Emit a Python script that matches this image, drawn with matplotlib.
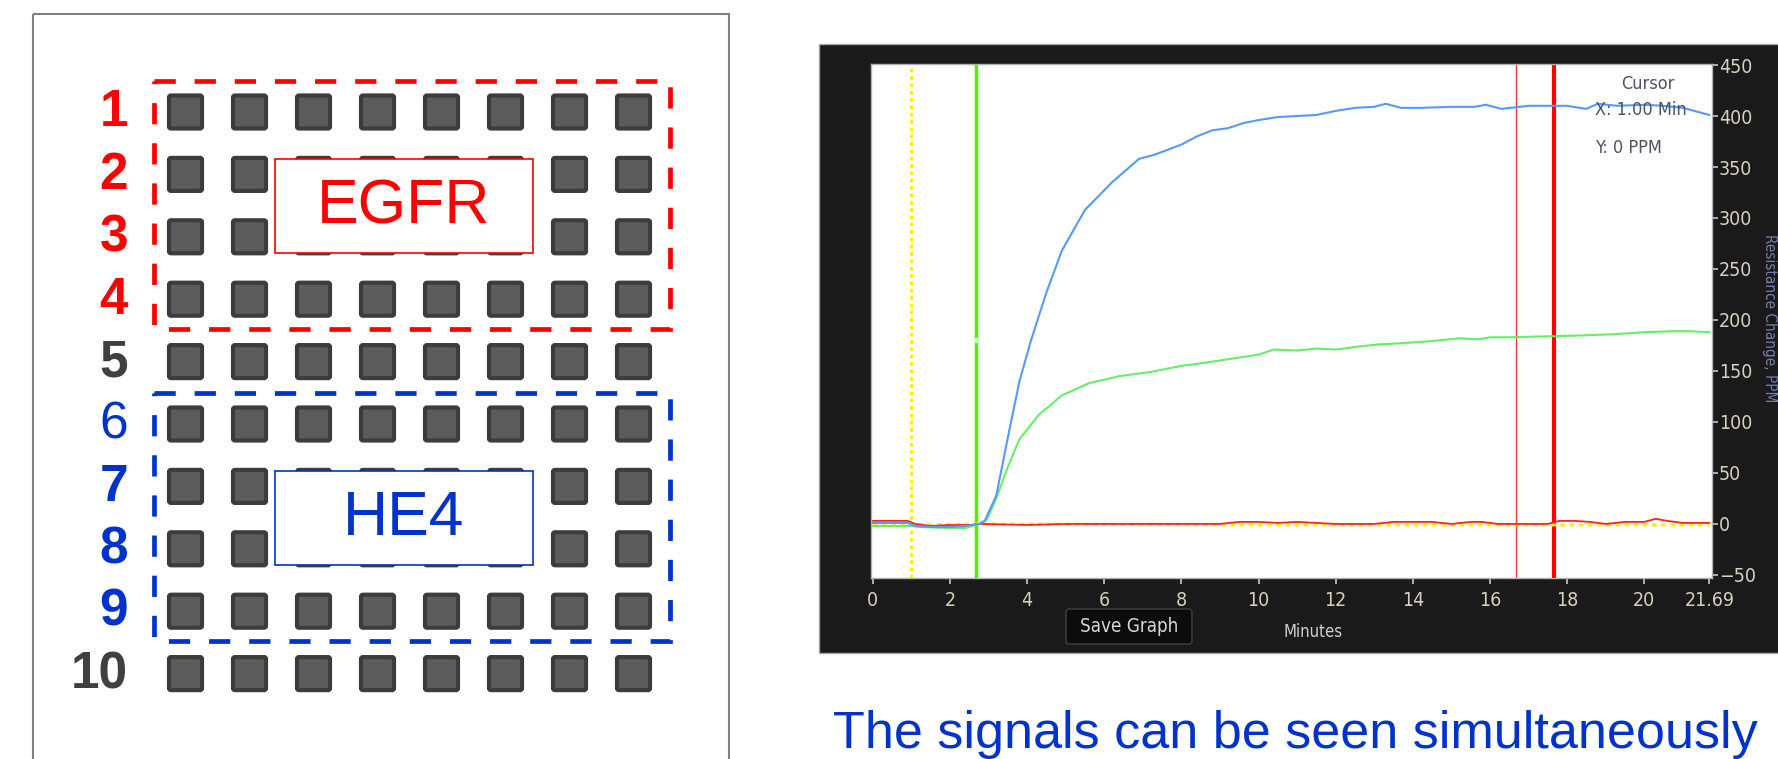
import matplotlib
matplotlib.use("Agg")
import matplotlib.pyplot as plt
from matplotlib.patches import Rectangle, FancyBboxPatch
from matplotlib import font_manager

# --------------------------------------------------------
# Data
# --------------------------------------------------------
row_labels = ["1", "2", "3", "4", "5", "6", "7", "8", "9", "10"]
row_colors = ["#ff0000"] * 4 + ["#404040"] + ["#0033cc"] * 4 + ["#404040"]
row_weights = ["bold"] * 5 + ["normal"] + ["bold"] * 4
n_cols = 8
groups = ["EGFR", "HE4"]
group_rows = [(0, 3), (5, 8)]
group_colors = ["#ff0000", "#0033cc"]

# blue sensor trace (minutes, PPM)
t_blue = [0, 0.9, 1.1, 1.5, 2.0, 2.4, 2.75, 2.9, 3.2, 3.5, 3.8, 4.1, 4.5, 4.9, 5.5,
          6.2, 6.9, 7.3, 8.0, 8.4, 8.8, 9.2, 9.6, 10.0, 10.5, 11.0, 11.5, 12.0, 12.5,
          13.0, 13.3, 13.7, 14.2, 15.0, 15.6, 15.9, 16.3, 17.0, 17.5, 18.0, 18.5,
          18.8, 19.3, 20.0, 20.5, 21.0, 21.4, 21.69]
v_blue = [1, 1, -2, -3, -3, -2, 0, 3, 28, 85, 140, 180, 227, 268, 308,
          335, 358, 362, 372, 380, 386, 388, 393, 396, 399, 400, 401, 405, 408,
          409, 412, 408, 408, 409, 409, 411, 407, 410, 410, 410, 407,
          412, 410, 411, 410, 408, 404, 401]

# green sensor trace
t_green = [0, 1.0, 1.2, 2.0, 2.4, 2.75, 2.95, 3.2, 3.5, 3.8, 4.3, 4.9, 5.6, 6.4, 7.2,
           8.0, 8.6, 9.3, 10.0, 10.4, 11.0, 11.5, 12.0, 12.6, 13.1, 13.6, 14.4, 15.2,
           15.7, 16.0, 16.5, 17.5, 18.5, 19.2, 20.0, 20.7, 21.2, 21.69]
v_green = [-2, -2, -3, -4, -4, 0, 4, 25, 56, 83, 107, 126, 138, 145, 149,
           155, 158, 162, 166, 171, 170, 172, 171, 174, 176, 177, 179, 182,
           181, 183, 183, 184, 185, 186, 188, 189, 189, 188]

# red reference trace
t_red = [0, 0.9, 1.1, 1.5, 2.0, 2.5, 2.8, 4.0, 5.0, 6.0, 7.0, 8.0, 9.0, 9.5, 10.0,
         10.5, 11.0, 12.0, 13.0, 13.5, 14.0, 14.5, 15.0, 15.5, 15.8, 16.2, 17.0,
         17.5, 17.8, 18.2, 18.6, 19.0, 19.5, 20.0, 20.3, 20.6, 21.0, 21.69]
v_red = [3, 3, 0, -2, -1, -1, 0, -1, 0, 0, 0, 0, 0, 2, 2,
         1, 2, 0, 0, 2, 2, 2, 0, 2, 2, 0, 0,
         0, 3, 3, 2, 0, 2, 2, 5, 3, 1, 1]

# yellow reference trace
t_yellow = [0, 1.0, 2.7, 10.0, 21.69]
v_yellow = [-1, -1, 0, -1, -1]

# cursor lines
cursor_x = [1.0, 2.67, 16.67, 17.67]

x_ticks = [0, 2, 4, 6, 8, 10, 12, 14, 16, 18, 20, 21.69]
x_ticklabels = ["0", "2", "4", "6", "8", "10", "12", "14", "16", "18", "20", "21.69"]
y_ticks = [-50, 0, 50, 100, 150, 200, 250, 300, 350, 400, 450]

# --------------------------------------------------------
# Fonts
# --------------------------------------------------------
names = {f.name for f in font_manager.fontManager.ttflist}
ui_font = "Liberation Sans Narrow" if "Liberation Sans Narrow" in names else "DejaVu Sans"
ui = dict(family=ui_font, stretch="condensed")
arial = "Liberation Sans"

W, H = 1778, 759
fig = plt.figure(figsize=(W / 100, H / 100), dpi=100)

bg = fig.add_axes([0, 0, 1, 1])
bg.set_xlim(0, W)
bg.set_ylim(H, 0)
bg.axis("off")

# --------------------------------------------------------
# Left panel: sensor array
# --------------------------------------------------------
bg.add_patch(Rectangle((33, 14), 696, 800, fill=False, ec="#7f7f7f", lw=1.5))

col_x0, col_dx = 185.5, 64.0
row_y0, row_dy = 112.0, 62.4
sq = 33
for r in range(len(row_labels)):
    cy = row_y0 + r * row_dy
    for c in range(n_cols):
        cx = col_x0 + c * col_dx
        bg.add_patch(FancyBboxPatch((cx - sq / 2, cy - sq / 2), sq, sq,
                                    boxstyle="round,pad=0,rounding_size=2",
                                    fc="#5c5c5c", ec="#3c3c3c", lw=3))
    bg.text(128, cy + 1, row_labels[r], ha="right", va="center", color=row_colors[r],
            fontsize=37, fontweight=row_weights[r], family=arial)

for name, (r0, r1), col in zip(groups, group_rows, group_colors):
    y_top = row_y0 + r0 * row_dy - 31
    y_bot = row_y0 + r1 * row_dy + 30
    bg.add_patch(Rectangle((154, y_top), 516, y_bot - y_top, fill=False, ec=col,
                           lw=3.4, ls=(0, (4.5, 4))))
    yc = (row_y0 + (r0 + 1) * row_dy + row_y0 + (r0 + 2) * row_dy) / 2
    bg.add_patch(Rectangle((275, yc - 47), 258, 94, fc="white", ec=col, lw=1.2, zorder=3))
    bg.text(404, yc + 1, name, ha="center", va="center", color=col, fontsize=45,
            family=arial, zorder=4)

# --------------------------------------------------------
# Right panel: instrument screenshot style chart
# --------------------------------------------------------
bg.add_patch(Rectangle((819, 44), W - 819 + 5, 653 - 44, fc="#1a1a1a", ec="#a8a8a8", lw=1))

x0, x1, y0, y1 = 871, 1712, 64, 578
ax = fig.add_axes([x0 / W, 1 - y1 / H, (x1 - x0) / W, (y1 - y0) / H])
ax.set_facecolor("white")
ax.set_xlim(-0.05, 21.76)
ax.set_ylim(-53, 451)

ax.axvline(cursor_x[0], color="#ffee00", lw=2.2, ls=(0, (1.2, 1.2)))
ax.axvline(cursor_x[1], color="#55ee00", lw=2.5)
ax.axvline(cursor_x[2], color="#ff3333", lw=1)
ax.axvline(cursor_x[3], color="#ff0000", lw=3)
ax.plot([cursor_x[1]], [180], "o", ms=4, color="#ccffcc", mec="none")

ax.plot(t_yellow, v_yellow, color="#ffee00", lw=2.2, ls=(0, (1.5, 1.5)))
ax.plot(t_red, v_red, color="#ff2020", lw=1.3)
ax.plot(t_green, v_green, color="#66ee66", lw=1.5)
ax.plot(t_blue, v_blue, color="#5599ff", lw=1.5)

ax.set_xticks(x_ticks)
ax.set_xticklabels(x_ticklabels)
ax.set_yticks(y_ticks)
ax.yaxis.tick_right()
ax.tick_params(axis="x", direction="out", length=4.5, width=1.2, color="#c8c8c8",
               labelcolor="#d8d0c0", pad=5)
ax.tick_params(axis="y", direction="out", length=4, width=1.2, color="#c8c8c8",
               labelcolor="#d8d0c0", pad=1)
for lab in ax.get_xticklabels() + ax.get_yticklabels():
    lab.set_fontproperties(font_manager.FontProperties(size=14, **ui))
for s in ax.spines.values():
    s.set_color("#b0b0b0")
    s.set_linewidth(1)

# overlay for texts on the chart
top = fig.add_axes([0, 0, 1, 1], zorder=5)
top.set_xlim(0, W)
top.set_ylim(H, 0)
top.axis("off")

top.text(1648, 84, "Cursor", ha="center", va="center", color="#505060", fontsize=13, **ui)
top.text(1595, 110, "X: 1.00 Min", ha="left", va="center", color="#505060", fontsize=13, **ui)
top.text(1595, 148, "Y: 0 PPM", ha="left", va="center", color="#505060", fontsize=13, **ui)

top.add_patch(FancyBboxPatch((1066, 609), 126, 35, boxstyle="round,pad=0,rounding_size=3",
                             fc="#0c0c0c", ec="#3a3a3a", lw=1.2))
top.text(1129, 626, "Save Graph", ha="center", va="center", color="#d8d8d8", fontsize=13.5, **ui)

top.text(1313, 632, "Minutes", ha="center", va="center", color="#d0d0d0",
         fontsize=12, **ui)

top.text(1777, 318, "Resistance Change, PPM", rotation=270, ha="right", va="center",
         color="#7080b0", fontsize=11, **ui)

# caption
bg.text(833, 748, "The signals can be seen simultaneously", ha="left", va="baseline",
        color="#0033cc", fontsize=37.5, family=arial)

fig.savefig("out.png", dpi=100)
